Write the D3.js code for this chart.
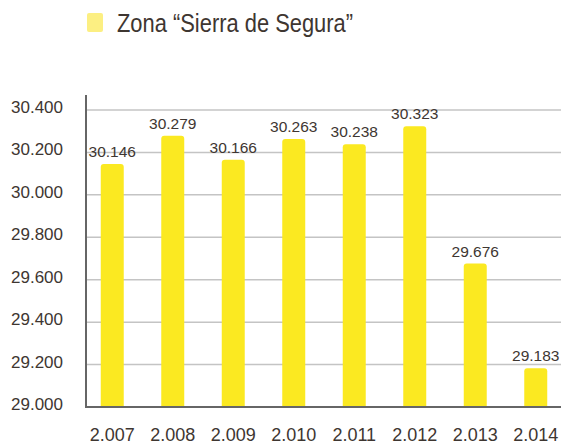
<!DOCTYPE html>
<html>
<head>
<meta charset="utf-8">
<script src="https://cdn.jsdelivr.net/npm/d3@7"></script>
<style>
  body { margin: 0; background: #fff; }
  svg text { font-family: "Liberation Sans", Arial, sans-serif; }
</style>
</head>
<body>
<svg id="chart"></svg>
<script>
'use strict'

const years  = ['2.007', '2.008', '2.009', '2.010', '2.011', '2.012', '2.013', '2.014']
const values = [30146, 30279, 30166, 30263, 30238, 30323, 29676, 29183]
const yTicks = [29000, 29200, 29400, 29600, 29800, 30000, 30200, 30400]
const seriesName = 'Zona \u201CSierra de Segura\u201D'

const width = 561, height = 446
const fmt = d3.format(',')
const dotted = v => fmt(v).replace(/,/g, '.')

const svg = d3.select('#chart').attr('width', width).attr('height', height)

const x = d3.scaleBand().domain(years).range([82, 566]).paddingInner(0.62).paddingOuter(0.31)
const y = d3.scaleLinear().domain([29000, 30400]).range([407, 110])

// gridlines
svg.append('g').selectAll('line')
  .data(yTicks.slice(1))
  .enter().append('line')
    .attr('x1', 86).attr('x2', width)
    .attr('y1', d => y(d)).attr('y2', d => y(d))
    .attr('stroke', '#c4c4c4').attr('stroke-width', 1.5)

// y tick labels
svg.append('g').selectAll('text')
  .data(yTicks)
  .enter().append('text')
    .attr('x', 63).attr('y', d => y(d) + 3)
    .attr('text-anchor', 'end')
    .attr('font-size', 17)
    .attr('fill', '#3e3631')
    .text(d => dotted(d))

// bars with rounded top corners
const barPath = d => {
  const x0 = x(d.year), w = x.bandwidth(), y0 = y(d.value), y1 = y(29000), r = 3
  return `M${x0},${y1}V${y0 + r}Q${x0},${y0} ${x0 + r},${y0}H${x0 + w - r}Q${x0 + w},${y0} ${x0 + w},${y0 + r}V${y1}Z`
}
const data = years.map((yr, i) => ({ year: yr, value: values[i] }))

svg.append('g').selectAll('path')
  .data(data)
  .enter().append('path')
    .attr('d', barPath)
    .attr('fill', '#fbe921')

// value labels
svg.append('g').selectAll('text')
  .data(data)
  .enter().append('text')
    .attr('x', d => x(d.year) + x.bandwidth() / 2)
    .attr('y', d => y(d.value) - 7)
    .attr('text-anchor', 'middle')
    .attr('font-size', 15.5)
    .attr('fill', '#3e3631')
    .text(d => dotted(d.value))

// axes lines
svg.append('line').attr('x1', 86).attr('x2', 86).attr('y1', 95).attr('y2', 408)
  .attr('stroke', '#666').attr('stroke-width', 2)
svg.append('line').attr('x1', 85).attr('x2', width).attr('y1', 407).attr('y2', 407)
  .attr('stroke', '#666').attr('stroke-width', 2)

// x labels
svg.append('g').selectAll('text')
  .data(years)
  .enter().append('text')
    .attr('x', d => x(d) + x.bandwidth() / 2)
    .attr('y', 441)
    .attr('text-anchor', 'middle')
    .attr('font-size', 18)
    .attr('fill', '#3e3631')
    .text(d => d)

// legend
svg.append('rect').attr('x', 87).attr('y', 13).attr('width', 16).attr('height', 19)
  .attr('rx', 2).attr('fill', '#fcef82')
svg.append('text').attr('x', 117).attr('y', 32)
  .attr('font-size', 25)
  .attr('textLength', 236).attr('lengthAdjust', 'spacingAndGlyphs')
  .attr('fill', '#3e3631')
  .text(seriesName)
</script>
</body>
</html>
